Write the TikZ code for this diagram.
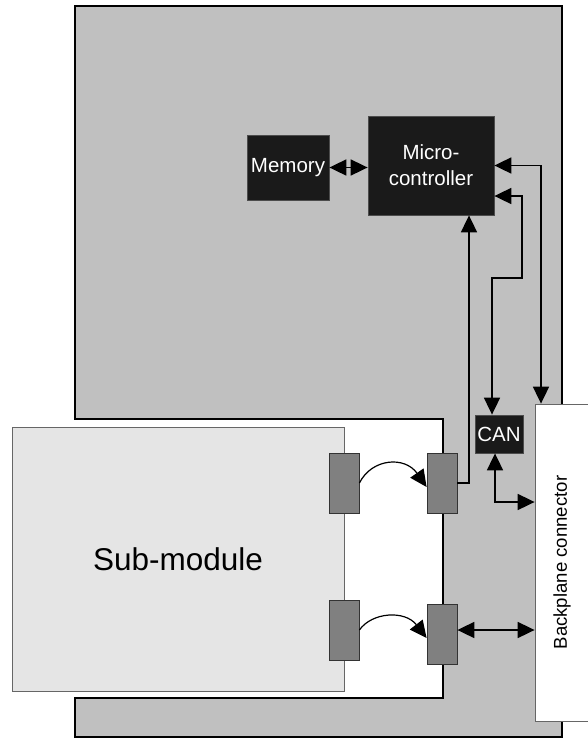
\documentclass[tikz,border=0pt]{standalone}
\usepackage{fontspec}
\setmainfont{Liberation Sans}
\usetikzlibrary{arrows.meta}
\definecolor{boardgray}{HTML}{C0C0C0}
\definecolor{subgray}{HTML}{E5E5E5}
\definecolor{conngray}{HTML}{808080}
\definecolor{boxblack}{HTML}{1A1A1A}
\begin{document}
\begin{tikzpicture}[x=1pt,y=-1pt,
  blackbox/.style={draw=black!70,line width=0.8pt,fill=boxblack,text=white,inner sep=0pt,align=center,font=\fontsize{20.5}{26}\selectfont},
  connbox/.style={draw=black!80,line width=0.8pt,fill=conngray,minimum width=30pt,minimum height=60pt,inner sep=0pt},
  wire/.style={line width=1.8pt,line join=miter},
  both/.style={{Triangle[length=17pt,width=16pt]}-{Triangle[length=17pt,width=16pt]}},
  one/.style={-{Triangle[length=17pt,width=16pt]}}
]
\useasboundingbox (0,0) rectangle (587,739);
% board
\path[draw=black,line width=2pt,fill=boardgray] (75,6) -- (562,6) -- (562,737) -- (75,737) -- (75,698) -- (443,698) -- (443,419) -- (75,419) -- cycle;
% sub-module
\node[draw=black!60,line width=0.8pt,fill=subgray,minimum width=332pt,minimum height=264pt,inner sep=0pt,font=\fontsize{31.5}{36}\selectfont] (sub) at (178,559) {Sub-module};
% backplane
\node[draw=black!60,line width=0.8pt,fill=white,minimum width=54pt,minimum height=317pt,inner sep=0pt] (bp) at (562,562.5) {};
\node[rotate=90,font=\fontsize{18.6}{21}\selectfont] (bptext) at (bp.center) {Backplane connector};
% connectors
\node[connbox] (c1) at (344,483) {};
\node[connbox] (c2) at (344,630) {};
\node[connbox] (c3) at (442,483) {};
\node[connbox] (c4) at (442,634) {};
% black boxes
\node[blackbox,minimum width=82pt,minimum height=65pt] (mem) at (288,167.5) {Memory};
\node[blackbox,minimum width=126pt,minimum height=99pt] (mc) at (431,165.5) {Micro-\\controller};
\node[blackbox,minimum width=48pt,minimum height=38pt] (can) at (499,434) {CAN};
% connections
\draw[wire,both] (mem.east) -- (mc.west |- mem.east);
\draw[wire,both] (mc.east) -| ([xshift=-21pt]bp.north);
\draw[wire,both] (mc.east |- 0,196) -- (522,196) -- (522,278) -- (492,278) -- (can.north -| 492,0);
\draw[wire,one] (c3.east) -- (469,483) -- (mc.south -| 469,0);
\draw[wire,both] (can.south -| 495,0) -- (495,502) -- (bp.west |- 0,502);
\draw[wire,both] (c4.east |- 0,630) -- (bp.west |- 0,630);
% arcs
\draw[line width=1.2pt,one] (c1.east) .. controls (372,458) and (405,456) .. ([yshift=-4pt]c3.west);
\draw[line width=1.2pt,one] (c2.east) .. controls (372,612) and (405,610) .. ([yshift=-4pt]c4.west);
\end{tikzpicture}
\end{document}
